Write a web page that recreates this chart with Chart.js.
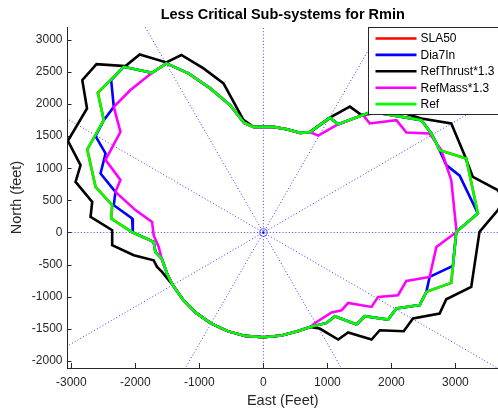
<!DOCTYPE html>
<html><head><meta charset="utf-8">
<script src="https://cdn.jsdelivr.net/npm/chart.js@4/dist/chart.umd.min.js"></script>
<style>html,body{margin:0;padding:0;background:#fff}canvas{display:block}</style>
</head><body>
<canvas id="c" width="498" height="412"></canvas>
<script>
// ---- data (feet) ----
const seriesNames = ['SLA50', 'Dia7In', 'RefThrust*1.3', 'RefMass*1.3', 'Ref'];
const seriesColors = ['#ff0000', '#0000ff', '#000000', '#ff00ff', '#00ff00'];
const xTickValues = [-3000, -2000, -1000, 0, 1000, 2000, 3000];
const yTickValues = [-2000, -1500, -1000, -500, 0, 500, 1000, 1500, 2000, 2500, 3000];

const sla50 = [[156,1645],[-156,1645],[-301,1708],[-519,1983],[-830,2244],[-1169,2477],[-1516,2633],[-1739,2487],[-2181,2580],[-2586,2175],[-2493,1750],[-2751,1293],[-2622,710],[-2362,425],[-2378,218],[-2040,0],[-1714,-146],[-1687,-302],[-1583,-416],[-1505,-639],[-1416,-818],[-1252,-1051],[-1051,-1252],[-818,-1416],[-559,-1536],[-284,-1610],[0,-1630],[284,-1605],[559,-1530],[728,-1471],[988,-1408],[1117,-1304],[1455,-1433],[1584,-1304],[1948,-1355],[2078,-1184],[2441,-1131],[2546,-925],[2935,-785],[3013,10],[3350,296],[3169,1153],[2753,1282],[2624,1542],[2468,1750],[2000,1828],[1818,1859],[1636,1859],[1169,1687],[1039,1789],[728,1563],[572,1552],[365,1609],[156,1645]];

const dia7In = [[156,1645],[-156,1645],[-301,1708],[-519,1983],[-830,2244],[-1169,2477],[-1516,2633],[-1739,2487],[-2181,2580],[-2378,2373],[-2337,1957],[-2493,1750],[-2622,1500],[-2466,1231],[-2544,919],[-2311,633],[-2337,425],[-2050,218],[-2040,0],[-1714,-146],[-1687,-302],[-1583,-416],[-1505,-639],[-1416,-818],[-1252,-1051],[-1051,-1252],[-818,-1416],[-559,-1536],[-284,-1610],[0,-1630],[284,-1605],[559,-1530],[728,-1471],[988,-1408],[1117,-1304],[1455,-1433],[1584,-1304],[1948,-1355],[2078,-1184],[2441,-1131],[2546,-925],[2597,-692],[2960,-520],[3013,10],[3350,296],[3066,885],[2857,1049],[2753,1282],[2624,1542],[2468,1750],[2000,1828],[1818,1859],[1636,1859],[1169,1687],[1039,1789],[728,1563],[572,1552],[365,1609],[156,1645]];

const refThrust13 = [[156,1645],[-156,1645],[-312,1755],[-623,2321],[-935,2555],[-1282,2764],[-1516,2649],[-1932,2773],[-2155,2591],[-2607,2622],[-2829,2373],[-2755,1932],[-3054,1427],[-2856,1050],[-2934,788],[-2674,477],[-2700,243],[-2362,36],[-2362,-198],[-2025,-354],[-1714,-433],[-1661,-536],[-1583,-614],[-1505,-712],[-1416,-818],[-1252,-1051],[-1051,-1252],[-818,-1416],[-559,-1536],[-284,-1610],[0,-1630],[284,-1605],[559,-1530],[728,-1471],[880,-1496],[1169,-1667],[1324,-1558],[1689,-1667],[1818,-1522],[2192,-1538],[2337,-1340],[2753,-1262],[2857,-1039],[3247,-848],[3376,9],[3661,347],[3766,503],[3661,659],[3272,866],[3143,1204],[2935,1698],[2468,1776],[2052,1905],[1533,1828],[1351,1960],[1039,1789],[728,1563],[572,1552],[365,1609],[156,1645]];

const refMass13 = [[156,1645],[-156,1645],[-301,1708],[-519,1983],[-830,2244],[-1169,2477],[-1516,2633],[-1739,2487],[-2077,2219],[-2337,1957],[-2233,1567],[-2466,1131],[-2233,819],[-2311,633],[-1998,349],[-1739,165],[-1714,-42],[-1636,-224],[-1583,-430],[-1505,-639],[-1416,-818],[-1252,-1051],[-1051,-1252],[-818,-1416],[-559,-1536],[-284,-1610],[0,-1630],[284,-1605],[559,-1530],[728,-1471],[832,-1393],[1066,-1246],[1221,-1211],[1324,-1097],[1689,-1159],[1792,-1003],[2103,-977],[2234,-753],[2597,-692],[2702,-224],[3018,9],[2935,815],[2779,1282],[2597,1542],[2234,1558],[2078,1750],[1662,1698],[1558,1828],[1169,1687],[857,1508],[728,1563],[572,1552],[365,1609],[156,1645]];

const ref = [[156,1645],[-156,1645],[-301,1708],[-519,1983],[-830,2244],[-1169,2477],[-1516,2633],[-1739,2487],[-2181,2580],[-2586,2175],[-2493,1750],[-2751,1293],[-2622,710],[-2362,425],[-2378,218],[-2040,0],[-1714,-146],[-1687,-302],[-1583,-416],[-1505,-639],[-1416,-818],[-1252,-1051],[-1051,-1252],[-818,-1416],[-559,-1536],[-284,-1610],[0,-1630],[284,-1605],[559,-1530],[728,-1471],[988,-1408],[1117,-1304],[1455,-1433],[1584,-1304],[1948,-1355],[2078,-1184],[2441,-1131],[2546,-925],[2935,-785],[3013,10],[3350,296],[3169,1153],[2753,1282],[2624,1542],[2468,1750],[2000,1828],[1818,1859],[1636,1859],[1169,1687],[1039,1789],[728,1563],[572,1552],[365,1609],[156,1645]];

// radial reference lines (every 30 degrees through the origin), as diameter endpoints
const radialLines = [
  [[-6000,0],[6000,0]],
  [[-5196,-3000],[5196,3000]],
  [[-3000,-5196],[3000,5196]],
  [[0,-6000],[0,6000]],
  [[3000,-5196],[-3000,5196]],
  [[5196,-3000],[-5196,3000]]
];
const origin = [[0,0]];

const seriesData = [sla50, dia7In, refThrust13, refMass13, ref];
const toXY = arr => arr.map(p => ({x: p[0], y: p[1]}));

const FONT = "'Liberation Sans', Arial, Helvetica, sans-serif";
const AXC = '#262626';

const datasets = [];
seriesData.forEach((d, i) => {
  datasets.push({
    label: seriesNames[i], data: toXY(d), showLine: true,
    borderColor: seriesColors[i], backgroundColor: seriesColors[i],
    borderWidth: 2.6, pointRadius: 0, tension: 0, fill: false,
    order: 5 - i, borderJoinStyle: 'miter'
  });
});
radialLines.forEach(l => {
  datasets.push({
    label: '_radial', data: toXY(l), showLine: true,
    borderColor: 'rgba(40,40,255,0.9)', borderWidth: 1, borderDash: [1, 2.2],
    pointRadius: 0, order: 20
  });
});
datasets.push({
  label: '_origin', data: toXY(origin), showLine: false,
  pointRadius: 4, pointBorderWidth: 1, pointBorderColor: 'rgba(60,60,255,0.7)',
  pointBackgroundColor: 'rgba(0,0,0,0)', order: 19
});
datasets.push({
  label: '_origin2', data: toXY(origin), showLine: false,
  pointRadius: 1.2, pointBorderWidth: 0, pointBackgroundColor: '#0000ff', order: 19
});

const innerTicks = {
  id: 'innerTicks',
  beforeDatasetsDraw(chart) {
    const {ctx, chartArea: a, scales: {x, y}} = chart;
    ctx.save();
    ctx.strokeStyle = AXC; ctx.lineWidth = 1;
    ctx.beginPath();
    xTickValues.forEach(v => {
      const px = Math.round(x.getPixelForValue(v)) + 0.5;
      ctx.moveTo(px, a.bottom); ctx.lineTo(px, a.bottom - 5);
    });
    yTickValues.forEach(v => {
      const py = Math.round(y.getPixelForValue(v)) + 0.5;
      ctx.moveTo(a.left, py); ctx.lineTo(a.left + 4, py);
    });
    ctx.stroke();
    ctx.restore();
  }
};

const titleAndLegend = {
  id: 'titleAndLegend',
  afterDatasetsDraw(chart) {
    const {ctx, chartArea: a} = chart;
    ctx.save();
    // title
    ctx.fillStyle = '#000';
    ctx.font = 'bold 14.5px ' + FONT;
    ctx.textAlign = 'center'; ctx.textBaseline = 'middle';
    ctx.fillText('Less Critical Sub-systems for Rmin', (a.left + a.right) / 2, 15);
    // legend box
    const bx = Math.round(a.right - 130) + 0.5, by = Math.round(a.top) + 0.5;
    ctx.fillStyle = '#fff';
    ctx.fillRect(bx, by, 140, 87);
    ctx.strokeStyle = AXC; ctx.lineWidth = 1;
    ctx.strokeRect(bx, by, 140, 87);
    ctx.font = '12px ' + FONT;
    ctx.textAlign = 'left'; ctx.textBaseline = 'middle';
    seriesNames.forEach((n, i) => {
      const ry = by + 11 + i * 16.4;
      ctx.strokeStyle = seriesColors[i]; ctx.lineWidth = 2.6;
      ctx.beginPath(); ctx.moveTo(bx + 7, ry); ctx.lineTo(bx + 48, ry); ctx.stroke();
      ctx.fillStyle = '#000';
      ctx.fillText(n, bx + 52, ry + 0.5);
    });
    ctx.restore();
  }
};

new Chart(document.getElementById('c'), {
  type: 'scatter',
  data: {datasets},
  options: {
    responsive: false, animation: false, devicePixelRatio: 1,
    layout: {autoPadding: false, padding: {top: 27, left: 0, right: 0, bottom: 0}},
    plugins: {legend: {display: false}, title: {display: false}, tooltip: {enabled: false}},
    scales: {
      x: {
        type: 'linear', min: -3060, max: 3665,
        afterBuildTicks: s => { s.ticks = xTickValues.map(v => ({value: v})); },
        afterFit: s => { s.height = 44; s.paddingLeft = 0; s.paddingRight = 0; },
        grid: {display: false, drawTicks: false},
        border: {display: true, color: AXC, width: 1},
        ticks: {font: {family: FONT, size: 12}, color: AXC, padding: 7, maxRotation: 0, autoSkip: false,
                callback: v => String(v)},
        title: {display: true, text: 'East (Feet)', font: {family: FONT, size: 14.5}, color: AXC,
                padding: {top: 0, bottom: 2}}
      },
      y: {
        type: 'linear', min: -2110, max: 3200,
        afterBuildTicks: s => { s.ticks = yTickValues.map(v => ({value: v})); },
        afterFit: s => { s.width = 67.5; s.paddingTop = 0; s.paddingBottom = 0; },
        grid: {display: false, drawTicks: false},
        border: {display: true, color: AXC, width: 1},
        ticks: {font: {family: FONT, size: 12}, color: AXC, padding: 5, autoSkip: false,
                callback: v => String(v)},
        title: {display: true, text: 'North (feet)', font: {family: FONT, size: 14.5}, color: AXC,
                padding: {top: 8, bottom: 0}}
      }
    }
  },
  plugins: [innerTicks, titleAndLegend]
});
</script>
</body></html>
